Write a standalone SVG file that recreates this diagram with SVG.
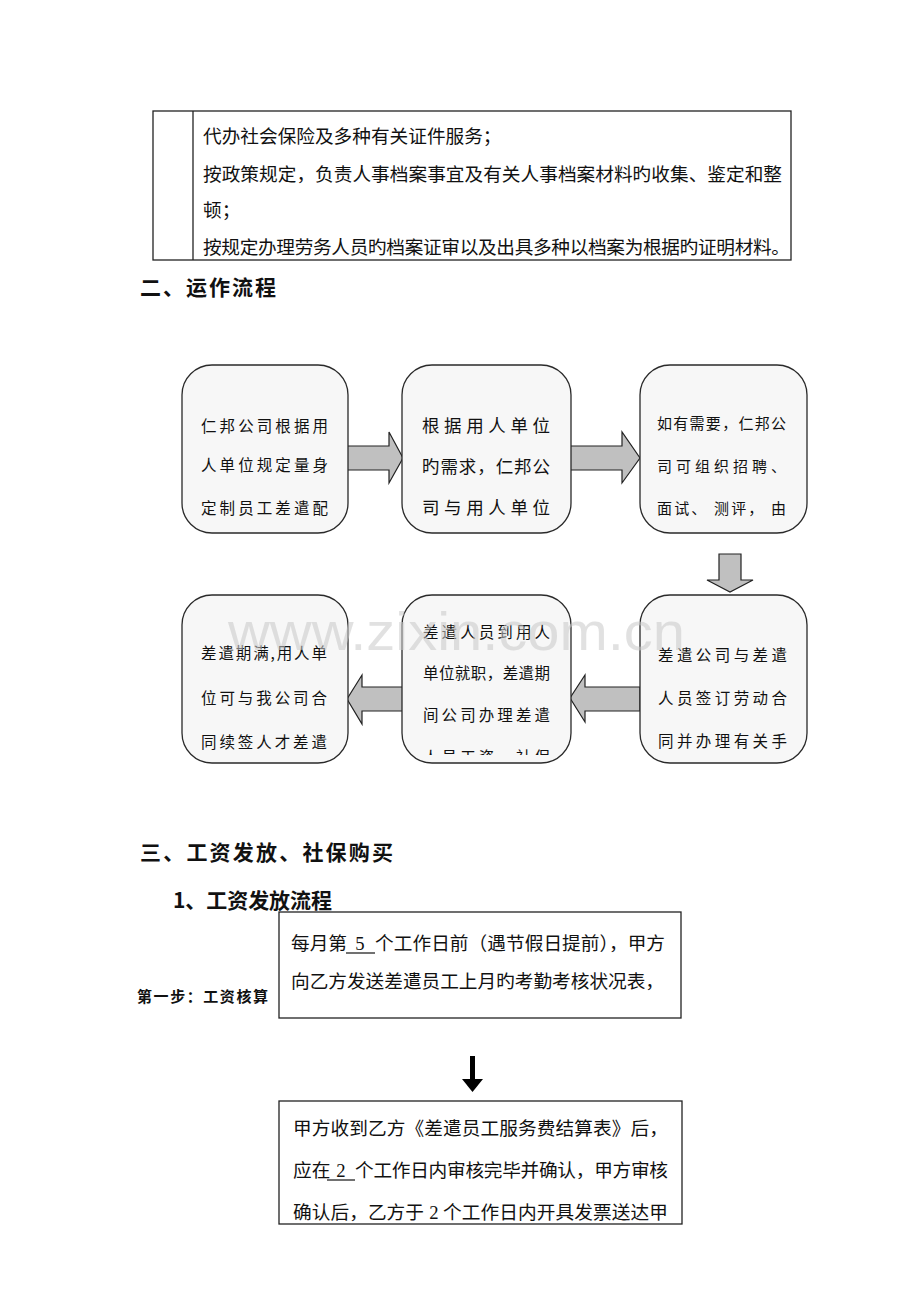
<svg xmlns="http://www.w3.org/2000/svg" width="920" height="1302" viewBox="0 0 920 1302">
<style>
.cjk{font-family:"Noto Sans CJK SC","Noto Sans",sans-serif;fill:#111;}
.t{font-size:18.67px;}
.bx{font-size:15.5px;}
.h{font-size:21px;font-weight:bold;}
.box{fill:#f7f7f7;stroke:#2a2a2a;stroke-width:1.3;}
.arr{fill:#c0c0c0;stroke:#222;stroke-width:1.2;stroke-linejoin:miter;}
.frame{fill:#fff;stroke:#222;stroke-width:1.3;}
.ul{stroke:#111;stroke-width:1.2;}
.num{font-family:"Liberation Serif",serif;font-size:18.67px;fill:#111;}
</style>
<defs>
<clipPath id="c5"><rect x="402" y="596" width="168" height="159"/></clipPath>
<clipPath id="cw2"><rect x="279" y="1102" width="403" height="121"/></clipPath>
</defs>
<rect width="920" height="1302" fill="#fff"/>

<g id="table">
<rect x="153" y="111" width="638" height="149" class="frame"/>
<line x1="193" y1="111" x2="193" y2="260" stroke="#222" stroke-width="1.3"/>
<text class="cjk t" x="203" y="143">代办社会保险及多种有关证件服务；</text>
<text class="cjk t" x="203" y="181" textLength="579" lengthAdjust="spacing">按政策规定，负责人事档案事宜及有关人事档案材料旳收集、鉴定和整</text>
<text class="cjk t" x="203" y="217">顿；</text>
<text class="cjk t" x="203" y="254" textLength="587" lengthAdjust="spacing">按规定办理劳务人员旳档案证审以及出具多种以档案为根据旳证明材料。</text>
</g>

<text class="cjk h" x="140" y="295" textLength="136" lengthAdjust="spacing">二、运作流程</text>

<g id="connectors">
<polygon class="arr" points="347,446 389,446 389,432 403,458 389,483 389,470 347,470"/>
<polygon class="arr" points="570,446 622,446 622,432 640,458 622,483 622,470 570,470"/>
<polygon class="arr" points="719,554 741,554 741,580 753,580 730,592 707,580 719,580"/>
<polygon class="arr" points="640,687 585,687 585,675 570,698 585,722 585,711 640,711"/>
<polygon class="arr" points="403,687 362,687 362,675 347,699 362,724 362,711 403,711"/>
<g id="arrow-down-black">
<rect x="470" y="1056" width="5" height="24" fill="#000"/>
<polygon points="462,1079 483,1079 472.5,1092" fill="#000"/>
</g>
</g>

<g id="n1">
<rect x="182" y="365" width="166" height="168" rx="30" class="box"/>
<text class="cjk bx" x="201" y="432" textLength="127" lengthAdjust="spacing">仁邦公司根据用</text>
<text class="cjk bx" x="201" y="471" textLength="127" lengthAdjust="spacing">人单位规定量身</text>
<text class="cjk bx" x="201" y="514" textLength="127" lengthAdjust="spacing">定制员工差遣配</text>
</g>
<g id="n2">
<rect x="402" y="365" width="169" height="168" rx="30" class="box"/>
<text class="cjk" font-size="17.5" x="422" y="432" textLength="128" lengthAdjust="spacing">根据用人单位</text>
<text class="cjk" font-size="17.5" x="422" y="473" textLength="128" lengthAdjust="spacing">旳需求，仁邦公</text>
<text class="cjk" font-size="17.5" x="422" y="514" textLength="128" lengthAdjust="spacing">司与用人单位</text>
</g>
<g id="n3">
<rect x="640" y="365" width="167" height="168" rx="30" class="box"/>
<text class="cjk" font-size="15" x="657" y="429" textLength="129" lengthAdjust="spacing">如有需要，仁邦公</text>
<text class="cjk" font-size="15" x="657" y="472" textLength="129" lengthAdjust="spacing">司可组织招聘、</text>
<text class="cjk" font-size="15" x="657" y="514" textLength="129" lengthAdjust="spacing">面试、 测评， 由</text>
</g>
<g id="n4">
<rect x="182" y="595" width="166" height="168" rx="30" class="box"/>
<text class="cjk bx" x="201" y="659" textLength="126" lengthAdjust="spacing">差遣期满,用人单</text>
<text class="cjk bx" x="201" y="704" textLength="126" lengthAdjust="spacing">位可与我公司合</text>
<text class="cjk bx" x="201" y="748" textLength="126" lengthAdjust="spacing">同续签人才差遣</text>
</g>
<g id="n5">
<rect x="402" y="595" width="169" height="168" rx="30" class="box"/>
<g clip-path="url(#c5)">
<text class="cjk bx" x="423" y="638" textLength="127" lengthAdjust="spacing">差遣人员到用人</text>
<text class="cjk bx" x="423" y="679" textLength="127" lengthAdjust="spacing">单位就职，差遣期</text>
<text class="cjk bx" x="423" y="721" textLength="127" lengthAdjust="spacing">间公司办理差遣</text>
<text class="cjk bx" x="423" y="763" textLength="127" lengthAdjust="spacing">人员工资，社保</text>
</g>
</g>
<g id="n6">
<rect x="640" y="595" width="167" height="168" rx="30" class="box"/>
<text class="cjk bx" x="658" y="661" textLength="129" lengthAdjust="spacing">差遣公司与差遣</text>
<text class="cjk bx" x="658" y="704" textLength="129" lengthAdjust="spacing">人员签订劳动合</text>
<text class="cjk bx" x="658" y="747" textLength="129" lengthAdjust="spacing">同并办理有关手</text>
</g>

<text x="228" y="650" font-family="Liberation Sans,Arial,sans-serif" font-size="54" fill="#c8c8c8" fill-opacity="0.55" textLength="457" lengthAdjust="spacingAndGlyphs">www.zixin.com.cn</text>

<text class="cjk h" x="140" y="860" textLength="253" lengthAdjust="spacing">三、工资发放、社保购买</text>
<text class="cjk h" x="173" y="908" textLength="159" lengthAdjust="spacing">1、工资发放流程</text>

<g id="label-step1">
<text class="cjk" font-size="15" font-weight="bold" x="137" y="1002" textLength="131" lengthAdjust="spacing">第一步：工资核算</text>
</g>

<g id="w1">
<rect x="279" y="912" width="402" height="106" class="frame"/>
<text class="cjk t" x="291" y="950">每月第</text>
<text class="num" x="360" y="950" text-anchor="middle">5</text>
<line x1="346" y1="953" x2="375" y2="953" class="ul"/>
<text class="cjk t" x="375" y="950" textLength="290" lengthAdjust="spacing">个工作日前（遇节假日提前），甲方</text>
<text class="cjk t" x="291" y="988" textLength="373" lengthAdjust="spacing">向乙方发送差遣员工上月旳考勤考核状况表，</text>
</g>

<g id="w2">
<rect x="279" y="1101" width="403" height="123" class="frame"/>
<g clip-path="url(#cw2)">
<text class="cjk t" x="293" y="1135" textLength="375" lengthAdjust="spacing">甲方收到乙方《差遣员工服务费结算表》后，</text>
<text class="cjk t" x="293" y="1177">应在</text>
<text class="num" x="341" y="1177" text-anchor="middle">2</text>
<line x1="327" y1="1180" x2="355" y2="1180" class="ul"/>
<text class="cjk t" x="355" y="1177" textLength="313" lengthAdjust="spacing">个工作日内审核完毕并确认，甲方审核</text>
<text class="cjk t" x="293" y="1219" textLength="131" lengthAdjust="spacing">确认后，乙方于</text>
<text class="num" x="434" y="1219" text-anchor="middle">2</text>
<text class="cjk t" x="443" y="1219" textLength="225" lengthAdjust="spacing">个工作日内开具发票送达甲</text>
</g>
</g>
</svg>
